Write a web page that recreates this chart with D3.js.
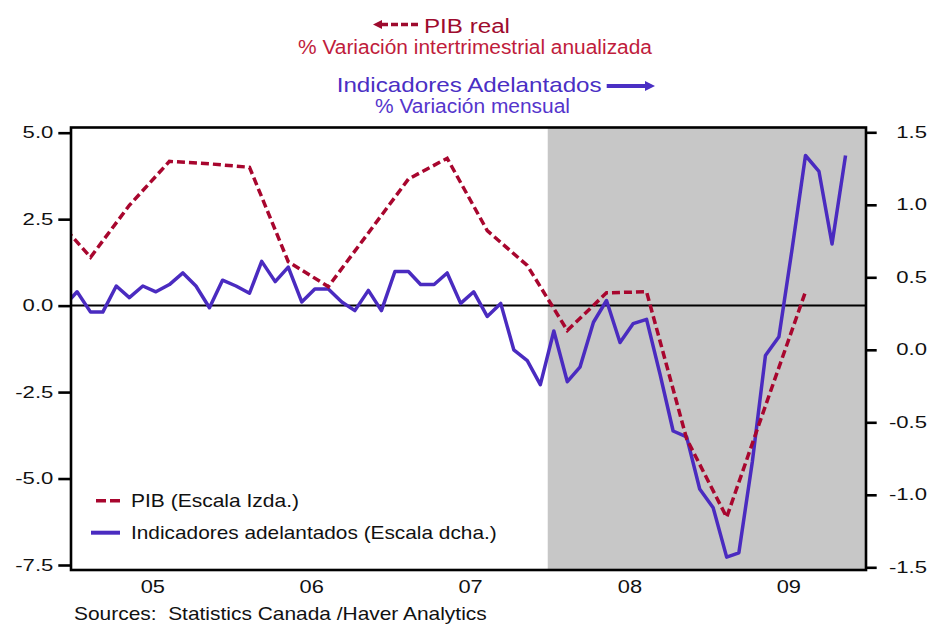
<!DOCTYPE html>
<html>
<head>
<meta charset="utf-8">
<script src="https://cdn.jsdelivr.net/npm/d3@7"></script>
<style>
  body { margin: 0; background: #fff; }
  text { font-family: Arial, "Liberation Sans", sans-serif; }
</style>
</head>
<body>
<div id="chart"></div>
<script>
// PIB real, % variacion intertrimestral anualizada (escala izda.), Q4 2004 - Q3 2009
var gdpQuarters = ['2004Q4',
    '2005Q1', '2005Q2', '2005Q3', '2005Q4',
    '2006Q1', '2006Q2', '2006Q3', '2006Q4',
    '2007Q1', '2007Q2', '2007Q3', '2007Q4',
    '2008Q1', '2008Q2', '2008Q3', '2008Q4',
    '2009Q1', '2009Q2', '2009Q3'];
var gdpValues = [2.7,
    1.4, 2.9, 4.17, 4.1,
    4.0, 1.27, 0.55, 2.1,
    3.66, 4.26, 2.17, 1.16,
    -0.72, 0.37, 0.4, -3.85,
    -6.12, -2.9, 0.4];

// Indicadores adelantados, % variacion mensual (escala dcha.), Dic 2004 - Nov 2009
var leadStart = '2004-12';
var leadValues = [0.30,
    0.40, 0.26, 0.26, 0.44, 0.36, 0.44, 0.40, 0.45, 0.53, 0.44, 0.29, 0.48,
    0.44, 0.39, 0.61, 0.47, 0.57, 0.33, 0.42, 0.42, 0.33, 0.27, 0.41, 0.27,
    0.54, 0.54, 0.45, 0.45, 0.53, 0.32, 0.40, 0.23, 0.32, 0.00, -0.075, -0.24,
    0.13, -0.22, -0.12, 0.19, 0.34, 0.05, 0.18, 0.21, -0.17, -0.56, -0.60, -0.96,
    -1.09, -1.43, -1.40, -0.77, -0.04, 0.09, 0.69, 1.34, 1.23, 0.73, 1.34];

var yearLabels = ['05', '06', '07', '08', '09'];
var leftTicks = [5.0, 2.5, 0.0, -2.5, -5.0, -7.5];
var rightTicks = [1.5, 1.0, 0.5, 0.0, -0.5, -1.0, -1.5];
var recessionStart = '2008-01-01';

var width = 933,
    height = 625;
var pLeft = 71, pRight = 866, pTop = 127.5, pBottom = 570;

var red = '#a8062e', blue = '#4a2bc0';

var svg = d3.select('#chart')
    .append('svg')
    .attr('width', width)
    .attr('height', height);

var x = d3.scaleTime()
    .domain([new Date(2005, 0, 1), new Date(2010, 0, 1)])
    .range([pLeft, pRight]);
var yL = d3.scaleLinear().domain([-7.5, 5]).range([565, 132.7]);
var yR = d3.scaleLinear().domain([-1.5, 1.5]).range([567.3, 132.3]);

var gdp = gdpQuarters.map(function (q, i) {
    var yr = +q.slice(0, 4), qn = +q.slice(5);
    return { date: new Date(yr, (qn - 1) * 3 + 1, 15), value: gdpValues[i] };
});
var s = leadStart.split('-');
var lead = leadValues.map(function (v, i) {
    return { date: new Date(+s[0], +s[1] - 1 + i, 15), value: v };
});

// stretch text to a width (source picture is horizontally wide)
function fit(sel, w) {
    sel.attr('textLength', w).attr('lengthAdjust', 'spacingAndGlyphs');
}
function stretch(sel, k) {
    sel.each(function () {
        var l = this.getComputedTextLength();
        d3.select(this).attr('textLength', l * k).attr('lengthAdjust', 'spacingAndGlyphs');
    });
}

svg.append('defs').append('clipPath')
    .attr('id', 'plot-clip')
    .append('rect')
    .attr('x', pLeft).attr('y', pTop)
    .attr('width', pRight - pLeft).attr('height', pBottom - pTop);

// recession shading
var rx = x(new Date(2008, 0, 1));
svg.append('rect')
    .attr('x', rx)
    .attr('y', pTop)
    .attr('width', pRight - rx)
    .attr('height', pBottom - pTop)
    .attr('fill', '#c7c7c7');

// zero line
svg.append('line')
    .attr('x1', pLeft).attr('x2', pRight)
    .attr('y1', yL(0)).attr('y2', yL(0))
    .attr('stroke', '#000').attr('stroke-width', 2);

var plot = svg.append('g').attr('clip-path', 'url(#plot-clip)');

plot.append('path')
    .datum(lead)
    .attr('fill', 'none')
    .attr('stroke', blue)
    .attr('stroke-width', 3.5)
    .attr('stroke-linejoin', 'round')
    .attr('d', d3.line()
        .x(function (d) { return x(d.date); })
        .y(function (d) { return yR(d.value); }));

plot.append('path')
    .datum(gdp)
    .attr('fill', 'none')
    .attr('stroke', red)
    .attr('stroke-width', 3.5)
    .attr('stroke-dasharray', '8,4')
    .attr('d', d3.line()
        .x(function (d) { return x(d.date); })
        .y(function (d) { return yL(d.value); }));

// frame
svg.append('rect')
    .attr('x', pLeft).attr('y', pTop)
    .attr('width', pRight - pLeft).attr('height', pBottom - pTop)
    .attr('fill', 'none')
    .attr('stroke', '#000')
    .attr('stroke-width', 2.6);

// axes
var axL = svg.append('g')
    .attr('transform', 'translate(' + pLeft + ',0)')
    .call(d3.axisLeft(yL).tickValues(leftTicks).tickSize(12.7).tickPadding(5)
        .tickFormat(function (d) { return d.toFixed(1); }));
var axR = svg.append('g')
    .attr('transform', 'translate(' + pRight + ',0)')
    .call(d3.axisRight(yR).tickValues(rightTicks).tickSize(10.7)
        .tickFormat(function (d) { return d.toFixed(1); }));

[axL, axR].forEach(function (ax) {
    ax.select('.domain').remove();
    ax.selectAll('line').attr('stroke', '#000').attr('stroke-width', 2.6);
    ax.selectAll('text')
        .attr('font-family', 'Arial, "Liberation Sans", sans-serif')
        .attr('font-size', 16)
        .attr('fill', '#111');
});
axR.selectAll('text').attr('text-anchor', 'end').attr('x', 61);
stretch(axL.selectAll('text'), 1.38);
stretch(axR.selectAll('text'), 1.38);

// year labels
var yl = svg.append('g').selectAll('text')
    .data(yearLabels)
    .enter()
    .append('text')
    .attr('x', function (d, i) { return x(new Date(2005 + i, 6, 1)) + 3; })
    .attr('y', 593.3)
    .attr('text-anchor', 'middle')
    .attr('font-size', 18.5)
    .attr('fill', '#111')
    .text(function (d) { return d; });
stretch(yl, 1.18);

// legend
svg.append('line')
    .attr('x1', 96).attr('x2', 120).attr('y1', 500.7).attr('y2', 500.7)
    .attr('stroke', red).attr('stroke-width', 3.5).attr('stroke-dasharray', '10,4');
svg.append('line')
    .attr('x1', 91).attr('x2', 120).attr('y1', 532.7).attr('y2', 532.7)
    .attr('stroke', blue).attr('stroke-width', 4);
svg.append('text').attr('x', 131).attr('y', 507.3).attr('font-size', 19).attr('fill', '#111')
    .text('PIB (Escala Izda.)').call(fit, 168);
svg.append('text').attr('x', 131).attr('y', 539).attr('font-size', 19).attr('fill', '#111')
    .text('Indicadores adelantados (Escala dcha.)').call(fit, 365.7);

// source
svg.append('text').attr('x', 74).attr('y', 620).attr('font-size', 18.5).attr('fill', '#111')
    .style('white-space', 'pre')
    .text('Sources:  Statistics Canada /Haver Analytics').call(fit, 412.7);

// titles
svg.append('line')
    .attr('x1', 381).attr('x2', 421).attr('y1', 24.5).attr('y2', 24.5)
    .attr('stroke', '#9e0b2e').attr('stroke-width', 3.5).attr('stroke-dasharray', '7,3');
svg.append('path')
    .attr('d', 'M373,24.5L382,20L382,29Z')
    .attr('fill', '#9e0b2e');
svg.append('text').attr('x', 424).attr('y', 32.7).attr('font-size', 20).attr('fill', '#9e0b2e')
    .text('PIB real').call(fit, 86);
svg.append('text').attr('x', 298).attr('y', 54).attr('font-size', 19.5).attr('fill', '#c01c3c')
    .text('% Variación intertrimestrial anualizada').call(fit, 354);

svg.append('text').attr('x', 336.7).attr('y', 92.3).attr('font-size', 21).attr('fill', '#4a2fc4')
    .text('Indicadores Adelantados').call(fit, 265);
svg.append('line')
    .attr('x1', 606.7).attr('x2', 647).attr('y1', 86).attr('y2', 86)
    .attr('stroke', '#4a2fc4').attr('stroke-width', 4);
svg.append('path')
    .attr('d', 'M655,86L645,81L645,91Z')
    .attr('fill', '#4a2fc4');
svg.append('text').attr('x', 375).attr('y', 113.3).attr('font-size', 19.5).attr('fill', '#5535cc')
    .text('% Variación mensual').call(fit, 195);
</script>
</body>
</html>
